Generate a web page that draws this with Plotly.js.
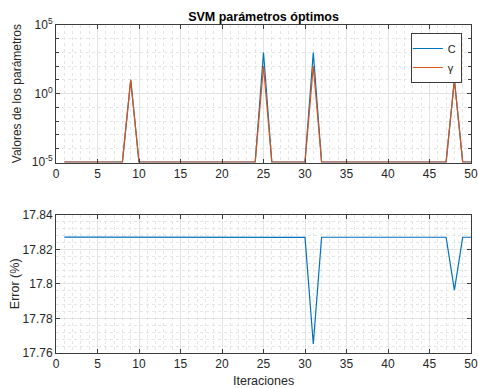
<!DOCTYPE html>
<html>
<head>
<meta charset="utf-8">
<script src="https://cdn.plot.ly/plotly-3.0.1.min.js"></script>
<style>
  html, body { margin: 0; padding: 0; background: #ffffff; }
  #chart { width: 478px; height: 388px; }
</style>
</head>
<body>
<div id="chart"></div>
<script>
// Iteration index of the optimisation run
const iteraciones = [];
for (let i = 1; i <= 50; i++) iteraciones.push(i);

// Box constraint C per iteration
const valoresC = [
  1e-5, 1e-5, 1e-5, 1e-5, 1e-5, 1e-5, 1e-5, 1e-5, 10, 1e-5,
  1e-5, 1e-5, 1e-5, 1e-5, 1e-5, 1e-5, 1e-5, 1e-5, 1e-5, 1e-5,
  1e-5, 1e-5, 1e-5, 1e-5, 1000, 1e-5, 1e-5, 1e-5, 1e-5, 1e-5,
  1000, 1e-5, 1e-5, 1e-5, 1e-5, 1e-5, 1e-5, 1e-5, 1e-5, 1e-5,
  1e-5, 1e-5, 1e-5, 1e-5, 1e-5, 1e-5, 1e-5, 10, 1e-5, 1e-5
];

// Kernel scale gamma per iteration
const valoresGamma = [
  1e-5, 1e-5, 1e-5, 1e-5, 1e-5, 1e-5, 1e-5, 1e-5, 10, 1e-5,
  1e-5, 1e-5, 1e-5, 1e-5, 1e-5, 1e-5, 1e-5, 1e-5, 1e-5, 1e-5,
  1e-5, 1e-5, 1e-5, 1e-5, 100, 1e-5, 1e-5, 1e-5, 1e-5, 1e-5,
  100, 1e-5, 1e-5, 1e-5, 1e-5, 1e-5, 1e-5, 1e-5, 1e-5, 1e-5,
  1e-5, 1e-5, 1e-5, 1e-5, 1e-5, 1e-5, 1e-5, 10, 1e-5, 1e-5
];

// Classification error (%) per iteration
const errorPct = [
  17.8271, 17.8271, 17.8271, 17.8271, 17.8271, 17.8270, 17.8270, 17.8270, 17.8270, 17.8270,
  17.8270, 17.8270, 17.8270, 17.8270, 17.8270, 17.8270, 17.8270, 17.8270, 17.8270, 17.8270,
  17.8270, 17.8270, 17.8270, 17.8270, 17.8269, 17.8269, 17.8269, 17.8269, 17.8269, 17.8269,
  17.7652, 17.8270, 17.8270, 17.8270, 17.8270, 17.8270, 17.8270, 17.8269, 17.8270, 17.8270,
  17.8270, 17.8270, 17.8270, 17.8270, 17.8270, 17.8270, 17.8270, 17.7964, 17.8270, 17.8270
];

// Tick positions and labels
const paramTicks = [1e-5, 1, 1e5];
const paramTickText = ['10<sup>-5</sup>', '10<sup>0</sup>', '10<sup>5</sup>'];
const errorTicks = [17.76, 17.78, 17.8, 17.82, 17.84];
const errorTickText = ['17.76', '17.78', '17.8', '17.82', '17.84'];

const txt = '#262626';
const fontFam = '"Liberation Sans", Arial, Helvetica, sans-serif';
const majorGrid = '#e3e3e3';
const minorGrid = '#e6e6e6';
const axisLine = '#3c3c3c';

const traces = [
  {
    x: iteraciones, y: valoresC, name: 'C', type: 'scatter', mode: 'lines',
    line: { color: '#0072BD', width: 1.2 }, xaxis: 'x', yaxis: 'y'
  },
  {
    x: iteraciones, y: valoresGamma, name: '\u03b3', type: 'scatter', mode: 'lines',
    line: { color: '#D95319', width: 1.2 }, xaxis: 'x', yaxis: 'y'
  },
  {
    x: iteraciones, y: errorPct, name: 'Error', type: 'scatter', mode: 'lines',
    line: { color: '#0072BD', width: 1.2 }, xaxis: 'x2', yaxis: 'y2', showlegend: false
  }
];

function xAxisCfg(anchor) {
  return {
    anchor: anchor, range: [0, 50], dtick: 5, tick0: 0,
    showline: true, linecolor: axisLine, linewidth: 1, mirror: 'ticks',
    ticks: 'inside', ticklen: 4, tickcolor: axisLine,
    showgrid: true, gridcolor: majorGrid, gridwidth: 1,
    zeroline: false,
    minor: { dtick: 1, showgrid: true, gridcolor: minorGrid, griddash: 'dot', gridwidth: 1 },
    tickfont: { family: fontFam, size: 12, color: txt },
    fixedrange: true
  };
}

const layout = {
  width: 478, height: 388,
  paper_bgcolor: '#ffffff', plot_bgcolor: '#ffffff',
  margin: { l: 56, r: 7, t: 25, b: 35 },
  font: { family: fontFam, size: 12, color: txt },
  title: {
    text: '<b>SVM parámetros óptimos</b>',
    font: { family: fontFam, size: 12.5, color: '#000000' },
    x: 0.5, xref: 'paper', xanchor: 'center',
    y: 1 - 17 / 388, yref: 'container', yanchor: 'middle'
  },
  xaxis: xAxisCfg('y'),
  yaxis: {
    domain: [0.5806, 1], anchor: 'x', type: 'log', range: [-5.03, 5],
    tickvals: paramTicks, ticktext: paramTickText,
    showline: true, linecolor: axisLine, linewidth: 1, mirror: 'ticks',
    ticks: 'inside', ticklen: 4, tickcolor: axisLine,
    showgrid: true, gridcolor: majorGrid, zeroline: false,
    minor: { dtick: 1, ticks: 'inside', ticklen: 3, tickcolor: axisLine,
             showgrid: true, gridcolor: minorGrid, griddash: 'dot' },
    tickfont: { family: fontFam, size: 12, color: txt },
    fixedrange: true
  },
  xaxis2: xAxisCfg('y2'),
  yaxis2: {
    domain: [0, 0.4213], anchor: 'x2', range: [17.76, 17.84],
    tickvals: errorTicks, ticktext: errorTickText,
    showline: true, linecolor: axisLine, linewidth: 1, mirror: 'ticks',
    ticks: 'inside', ticklen: 4, tickcolor: axisLine,
    showgrid: true, gridcolor: majorGrid, zeroline: false,
    minor: { dtick: 0.004, tick0: 17.76, showgrid: true, gridcolor: minorGrid, griddash: 'dot' },
    tickfont: { family: fontFam, size: 12, color: txt },
    fixedrange: true
  },
  legend: {
    x: 0.978, y: 0.9756, xanchor: 'right', yanchor: 'top',
    bgcolor: '#ffffff', bordercolor: axisLine, borderwidth: 1,
    font: { family: fontFam, size: 11, color: txt },
    itemwidth: 30, tracegroupgap: 0, indentation: -4
  },
  annotations: [
    {
      text: 'Valores de los parámetros', xref: 'paper', yref: 'paper',
      x: -0.0932, y: 0.790, xanchor: 'center', yanchor: 'middle',
      textangle: -90, showarrow: false,
      font: { family: fontFam, size: 12, color: txt }
    },
    {
      text: 'Error (%)', xref: 'paper', yref: 'paper',
      x: -0.1004, y: 0.211, xanchor: 'center', yanchor: 'middle',
      textangle: -90, showarrow: false,
      font: { family: fontFam, size: 12.5, color: txt }
    },
    {
      text: 'Iteraciones', xref: 'paper', yref: 'paper',
      x: 0.5, y: (353.3 - 381) / 328.3, xanchor: 'center', yanchor: 'middle',
      showarrow: false,
      font: { family: fontFam, size: 12.5, color: txt }
    }
  ],
  showlegend: true
};

Plotly.newPlot('chart', traces, layout, { displayModeBar: false, staticPlot: true });
</script>
</body>
</html>
